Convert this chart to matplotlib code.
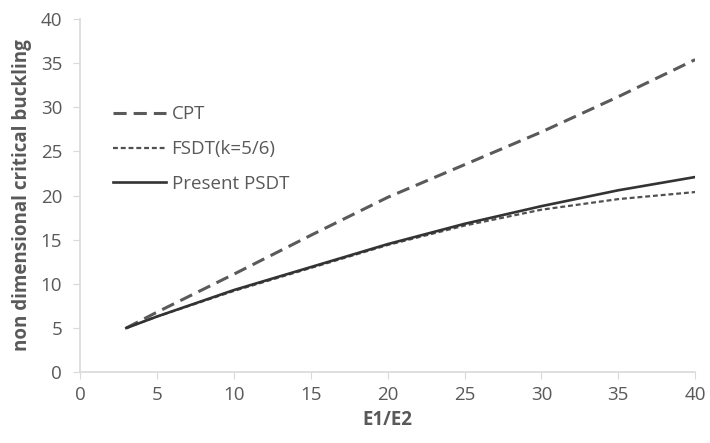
import matplotlib
matplotlib.use("Agg")
import matplotlib.pyplot as plt

# E1/E2 ratio vs non-dimensional critical buckling load
ratio = [3, 5, 10, 15, 20, 25, 30, 35, 40]
cpt = [5.0, 6.8, 11.1, 15.5, 19.8, 23.5, 27.2, 31.2, 35.4]
fsdt = [5.0, 6.3, 9.2, 11.8, 14.4, 16.6, 18.4, 19.6, 20.4]
psdt = [5.0, 6.3, 9.3, 11.9, 14.5, 16.8, 18.8, 20.6, 22.1]

GREY = "#595959"
AXIS = "#d9d9d9"

plt.rcParams["font.family"] = ["Open Sans", "DejaVu Sans"]

fig = plt.figure(figsize=(7.1, 4.43), dpi=100)
ax = fig.add_axes([0.113, 0.160, 0.866, 0.797])

ax.plot(ratio, cpt, color="#5a5a5a", lw=2.2, dashes=(4.3, 2.3), label="CPT")
ax.plot(ratio, fsdt, color="#505050", lw=1.6, dashes=(2.2, 1.3), label="FSDT(k=5/6)")
ax.plot(ratio, psdt, color="#333333", lw=1.9, label="Present PSDT")

ax.set_xlim(0, 40)
ax.set_ylim(0, 40)
ax.set_xticks(range(0, 41, 5))
ax.set_yticks(range(0, 41, 5))

for s in ("top", "right"):
    ax.spines[s].set_visible(False)
for s in ("left", "bottom"):
    ax.spines[s].set_color(AXIS)
    ax.spines[s].set_linewidth(1.2)
ax.tick_params(axis="both", colors=AXIS, labelcolor=GREY, labelsize=13.5, length=5)
ax.tick_params(axis="y", pad=8)
ax.tick_params(axis="x", pad=5)

ax.set_xlabel("E1/E2", fontsize=13.5, fontweight="bold", color=GREY, labelpad=4)
ax.set_ylabel("non dimensional critical buckling", fontsize=13.5, fontweight="bold",
              color=GREY, labelpad=6)

ax.legend(loc="upper left", bbox_to_anchor=(0.054, 0.756), frameon=False, fontsize=13.5,
          labelcolor=GREY, handlelength=2.8, labelspacing=0.9, handletextpad=0.3,
          borderpad=0, borderaxespad=0)

fig.savefig("out.png", dpi=100, facecolor="white")
